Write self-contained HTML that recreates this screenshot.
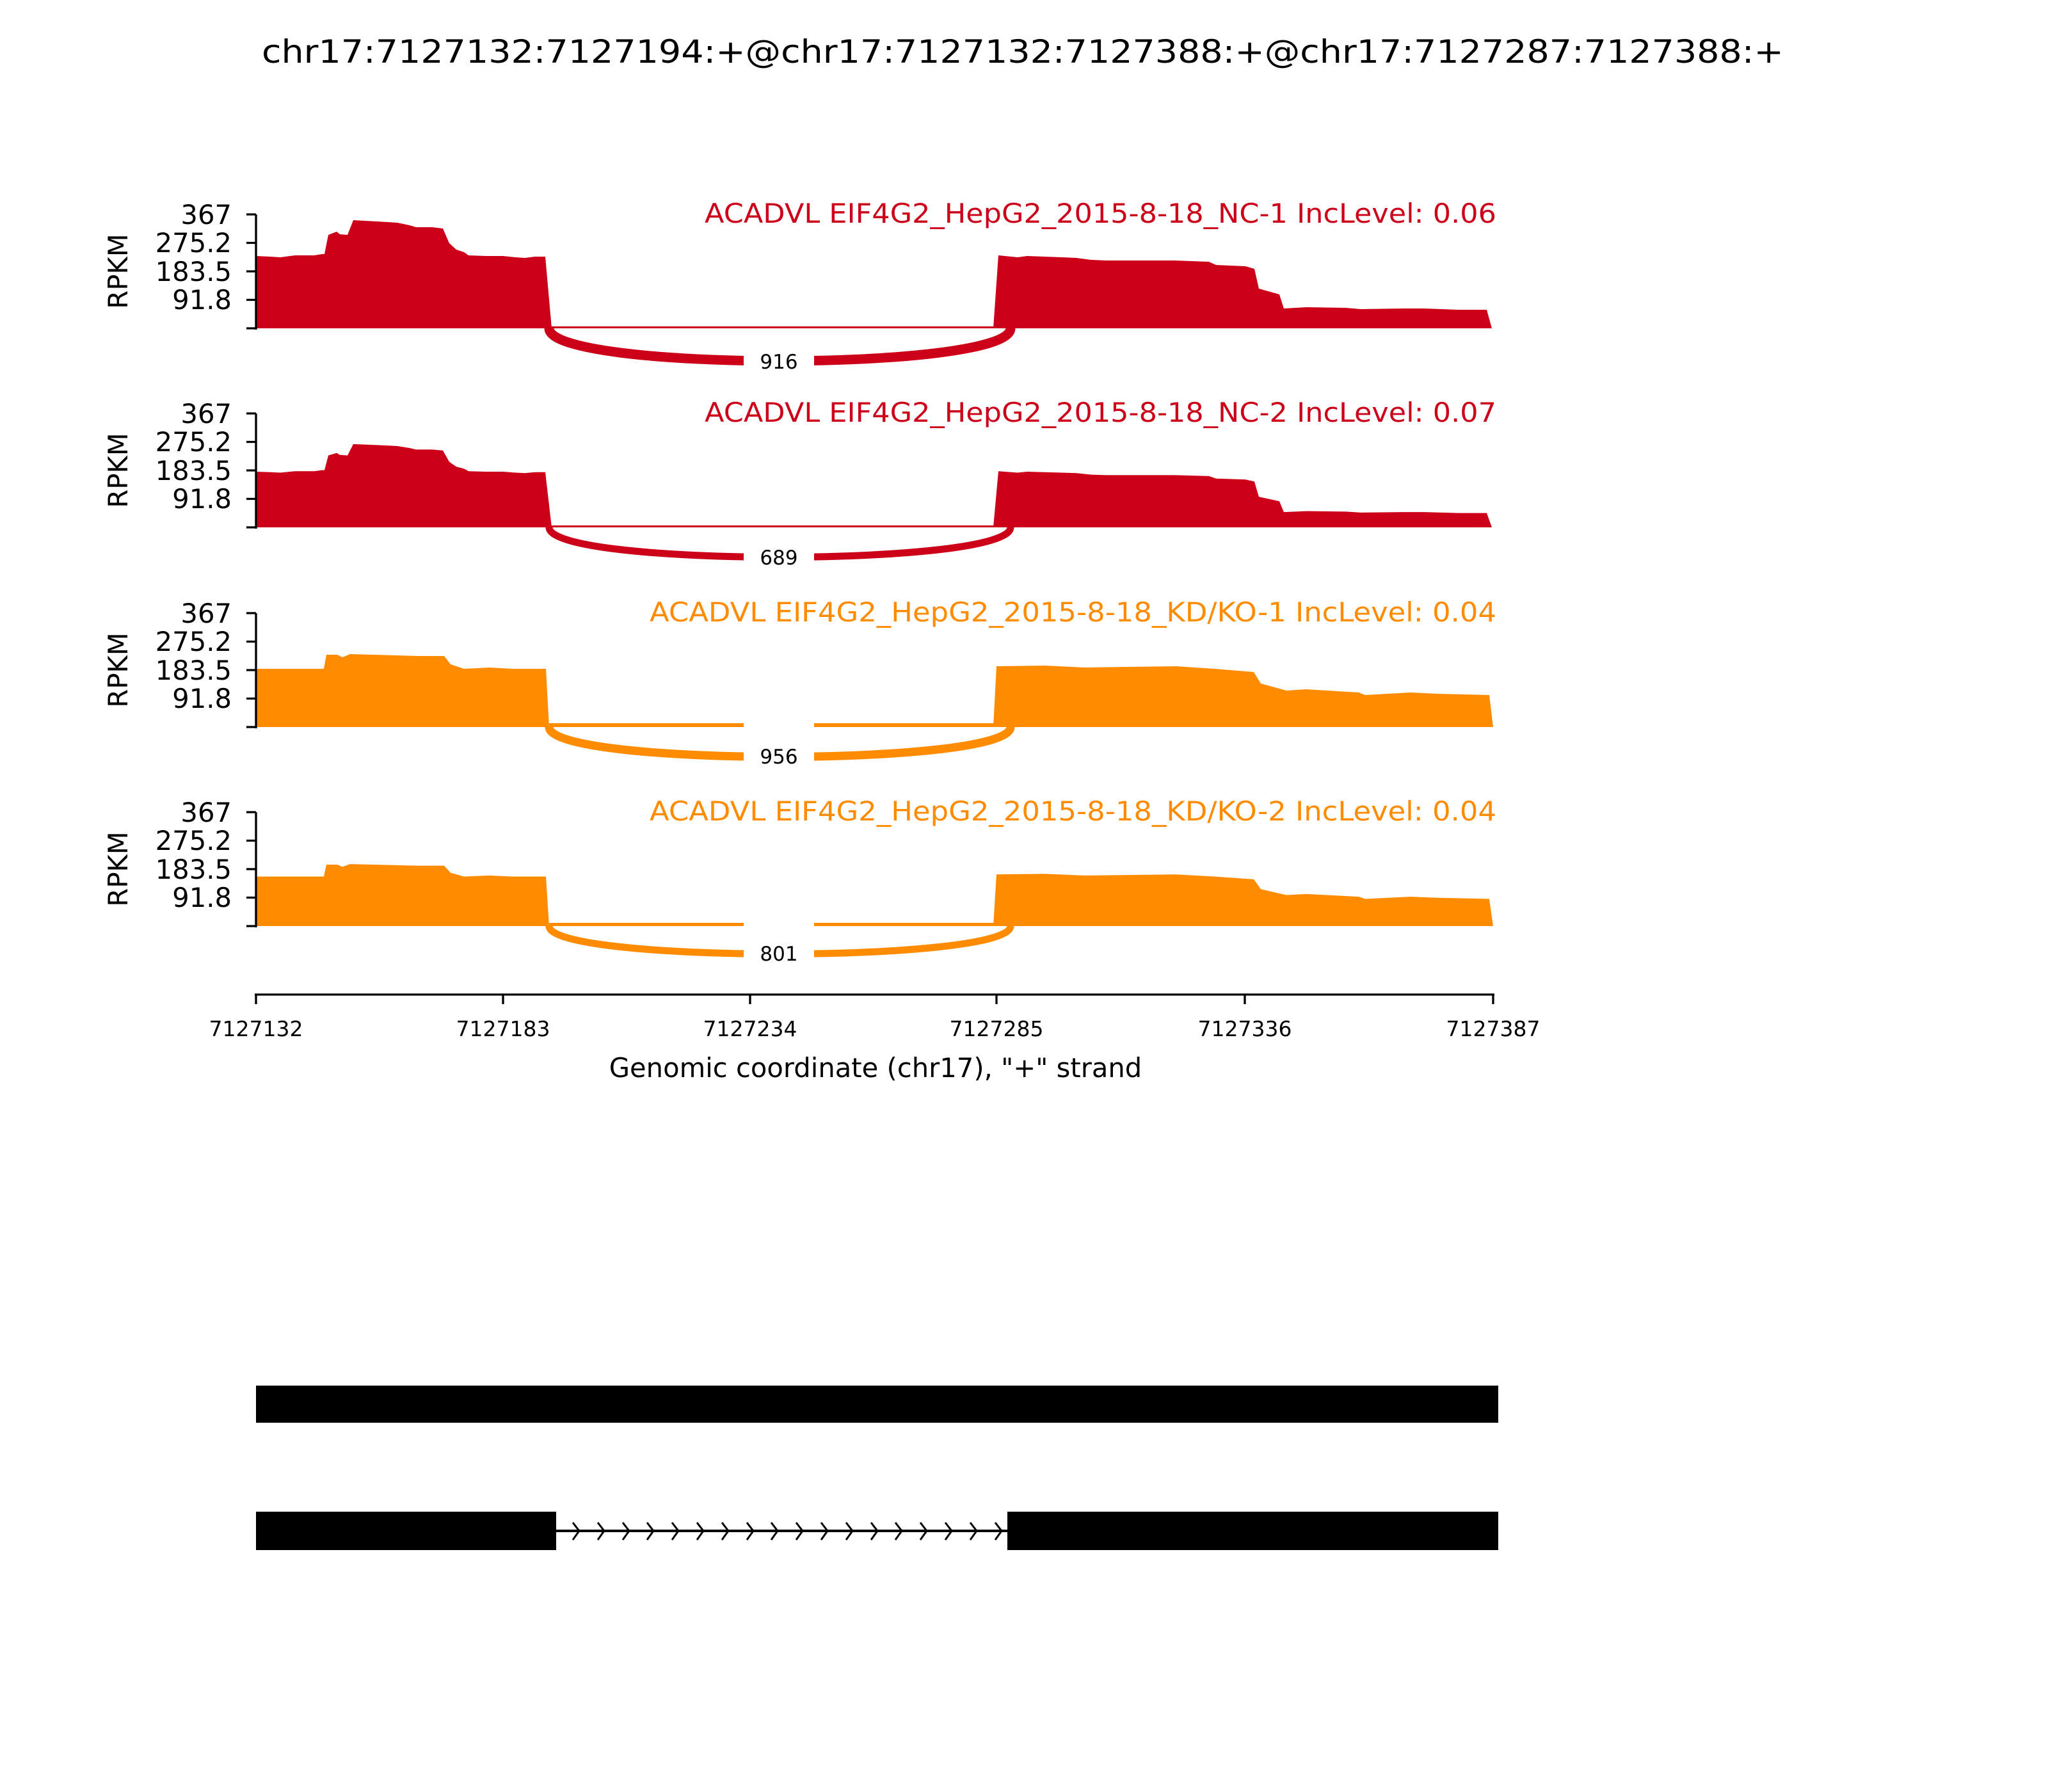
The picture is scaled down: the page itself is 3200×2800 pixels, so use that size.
<!DOCTYPE html>
<html><head><meta charset="utf-8"><style>
html,body{margin:0;padding:0;background:#fff;}
svg{display:block;}
text{font-family:"DejaVu Sans","Liberation Sans",sans-serif;}
</style></head><body>
<svg width="3200" height="2800" viewBox="0 0 3200 2800" xmlns="http://www.w3.org/2000/svg">
<rect width="3200" height="2800" fill="#fff"/>
<text x="1598" y="98" font-size="50" text-anchor="middle" textLength="2378" lengthAdjust="spacingAndGlyphs">chr17:7127132:7127194:+@chr17:7127132:7127388:+@chr17:7127287:7127388:+</text>

<defs>
<path id="p1" d="M400,0 L400,-113 L422,-112 L438,-111 L461,-114 L491,-114 L503,-116 L507,-116 L513,-146 L526,-151 L531,-147 L543,-146 L552,-169 L606,-166 L621,-165 L640,-161 L650,-158 L675,-158 L692,-156 L702,-133 L713,-123 L725,-119 L732,-114 L759,-113 L786,-113 L805,-111 L820,-110 L836,-112 L852,-112 L862,0 Z M1552,0 L1560,-114 L1590,-111 L1605,-113 L1659,-111 L1682,-110 L1705,-107 L1728,-106 L1835,-106 L1889,-104 L1900,-99 L1946,-97 L1960,-93 L1967,-62 L1992,-55 L1999,-53 L2006,-31 L2042,-33 L2103,-32 L2126,-30 L2195,-31 L2225,-31 L2279,-29 L2323,-29 L2331,0 Z"/>
<path id="p3" d="M400,0 L400,-91 L506,-91 L510,-113 L527,-113 L535,-109 L547,-114 L653,-111 L694,-111 L704,-98 L725,-91 L765,-93 L800,-91 L853,-91 L858,0 Z M1552,0 L1557,-95 L1633,-96 L1694,-93 L1837,-95 L1898,-91 L1959,-86 L1970,-68 L2010,-57 L2041,-59 L2123,-54 L2133,-50 L2204,-54 L2245,-52 L2327,-50 L2333,0 Z"/>
</defs>

<!-- Panel template function replicated -->
<g id="panels">
<!-- P1 -->
<g transform="translate(0,513)">
 <use href="#p1" fill="#cc0018"/>
 <rect x="858" y="-3" width="700" height="3" fill="#cc0018"/>
 <path d="M858,0 C858,68 1579,68 1579,0" fill="none" stroke="#cc0018" stroke-width="15"/>
 <rect x="1162" y="31" width="110" height="40" fill="#fff"/>
 <text x="1217" y="63" font-size="31" text-anchor="middle">916</text>
 <text x="2338" y="-165" font-size="41.7" text-anchor="end" fill="#cc0018" textLength="1237" lengthAdjust="spacingAndGlyphs">ACADVL EIF4G2_HepG2_2015-8-18_NC-1 IncLevel: 0.06</text>
</g>
<!-- P2 -->
<g transform="translate(0,824)">
 <g transform="scale(1,0.77)"><use href="#p1" fill="#cc0018"/></g>
 <rect x="858" y="-3" width="700" height="3" fill="#cc0018"/>
 <path d="M858,0 C858,62 1579,62 1579,0" fill="none" stroke="#cc0018" stroke-width="11"/>
 <rect x="1162" y="28" width="110" height="38" fill="#fff"/>
 <text x="1217" y="58" font-size="31" text-anchor="middle">689</text>
 <text x="2338" y="-165" font-size="41.7" text-anchor="end" fill="#cc0018" textLength="1237" lengthAdjust="spacingAndGlyphs">ACADVL EIF4G2_HepG2_2015-8-18_NC-2 IncLevel: 0.07</text>
</g>
<!-- P3 -->
<g transform="translate(0,1136)">
 <use href="#p3" fill="#ff8c00"/>
 <rect x="858" y="-6" width="700" height="6" fill="#ff8c00"/>
 <path d="M858,0 C858,62 1579,62 1579,0" fill="none" stroke="#ff8c00" stroke-width="13"/>
 <rect x="1162" y="-8" width="110" height="74" fill="#fff"/>
 <text x="1217" y="57" font-size="31" text-anchor="middle">956</text>
 <text x="2338" y="-165" font-size="41.7" text-anchor="end" fill="#ff8c00" textLength="1323" lengthAdjust="spacingAndGlyphs">ACADVL EIF4G2_HepG2_2015-8-18_KD/KO-1 IncLevel: 0.04</text>
</g>
<!-- P4 -->
<g transform="translate(0,1447)">
 <g transform="scale(1,0.85)"><use href="#p3" fill="#ff8c00"/></g>
 <rect x="858" y="-5" width="700" height="5" fill="#ff8c00"/>
 <path d="M858,0 C858,58 1579,58 1579,0" fill="none" stroke="#ff8c00" stroke-width="11"/>
 <rect x="1162" y="-7" width="110" height="70" fill="#fff"/>
 <text x="1217" y="54" font-size="31" text-anchor="middle">801</text>
 <text x="2338" y="-165" font-size="41.7" text-anchor="end" fill="#ff8c00" textLength="1323" lengthAdjust="spacingAndGlyphs">ACADVL EIF4G2_HepG2_2015-8-18_KD/KO-2 IncLevel: 0.04</text>
</g>
</g>

<!-- Y axes -->
<g stroke="#000" stroke-width="3.3" fill="none">
 <path d="M400,335 V515 M385,335 H400 M385,379.5 H400 M385,424 H400 M385,468.5 H400 M385,513 H400"/>
 <path d="M400,646 V826 M385,646 H400 M385,690.5 H400 M385,735 H400 M385,779.5 H400 M385,824 H400"/>
 <path d="M400,958 V1138 M385,958 H400 M385,1002.5 H400 M385,1047 H400 M385,1091.5 H400 M385,1136 H400"/>
 <path d="M400,1269 V1449 M385,1269 H400 M385,1313.5 H400 M385,1358 H400 M385,1402.5 H400 M385,1447 H400"/>
</g>
<g font-size="41.7" text-anchor="end">
 <text x="362" y="350">367</text><text x="362" y="394">275.2</text><text x="362" y="439">183.5</text><text x="362" y="483">91.8</text>
 <text x="362" y="661">367</text><text x="362" y="705">275.2</text><text x="362" y="750">183.5</text><text x="362" y="794">91.8</text>
 <text x="362" y="973">367</text><text x="362" y="1017">275.2</text><text x="362" y="1062">183.5</text><text x="362" y="1106">91.8</text>
 <text x="362" y="1284">367</text><text x="362" y="1328">275.2</text><text x="362" y="1373">183.5</text><text x="362" y="1417">91.8</text>
</g>
<g font-size="41.7" text-anchor="middle">
 <text transform="translate(199,424) rotate(-90)">RPKM</text>
 <text transform="translate(199,735) rotate(-90)">RPKM</text>
 <text transform="translate(199,1047) rotate(-90)">RPKM</text>
 <text transform="translate(199,1358) rotate(-90)">RPKM</text>
</g>

<!-- X axis -->
<g stroke="#000" stroke-width="3.3" fill="none">
 <path d="M398,1554 H2335 M400,1554 V1569 M786,1554 V1569 M1172,1554 V1569 M1557,1554 V1569 M1945,1554 V1569 M2333,1554 V1569"/>
</g>
<g font-size="33" text-anchor="middle">
 <text x="400" y="1619">7127132</text><text x="786" y="1619">7127183</text><text x="1172" y="1619">7127234</text>
 <text x="1557" y="1619">7127285</text><text x="1945" y="1619">7127336</text><text x="2333" y="1619">7127387</text>
</g>
<text x="1368" y="1683" font-size="41.7" text-anchor="middle">Genomic coordinate (chr17), "+" strand</text>

<!-- Gene tracks -->
<rect x="400" y="2165" width="1941" height="58" fill="#000"/>
<rect x="400" y="2362" width="469" height="60" fill="#000"/>
<rect x="1574" y="2362" width="767" height="60" fill="#000"/>
<rect x="869" y="2390" width="705" height="4" fill="#000"/>
<path fill="none" stroke="#000" stroke-width="3" d="
M895,2379 L905,2392 L895,2406 M934,2379 L944,2392 L934,2406 M973,2379 L983,2392 L973,2406 M1011,2379 L1021,2392 L1011,2406 M1050,2379 L1060,2392 L1050,2406 M1089,2379 L1099,2392 L1089,2406 M1128,2379 L1138,2392 L1128,2406 M1167,2379 L1177,2392 L1167,2406 M1205,2379 L1215,2392 L1205,2406 M1244,2379 L1254,2392 L1244,2406 M1283,2379 L1293,2392 L1283,2406 M1322,2379 L1332,2392 L1322,2406 M1361,2379 L1371,2392 L1361,2406 M1399,2379 L1409,2392 L1399,2406 M1438,2379 L1448,2392 L1438,2406 M1477,2379 L1487,2392 L1477,2406 M1516,2379 L1526,2392 L1516,2406 M1555,2379 L1565,2392 L1555,2406"/>
</svg>
</body></html>
